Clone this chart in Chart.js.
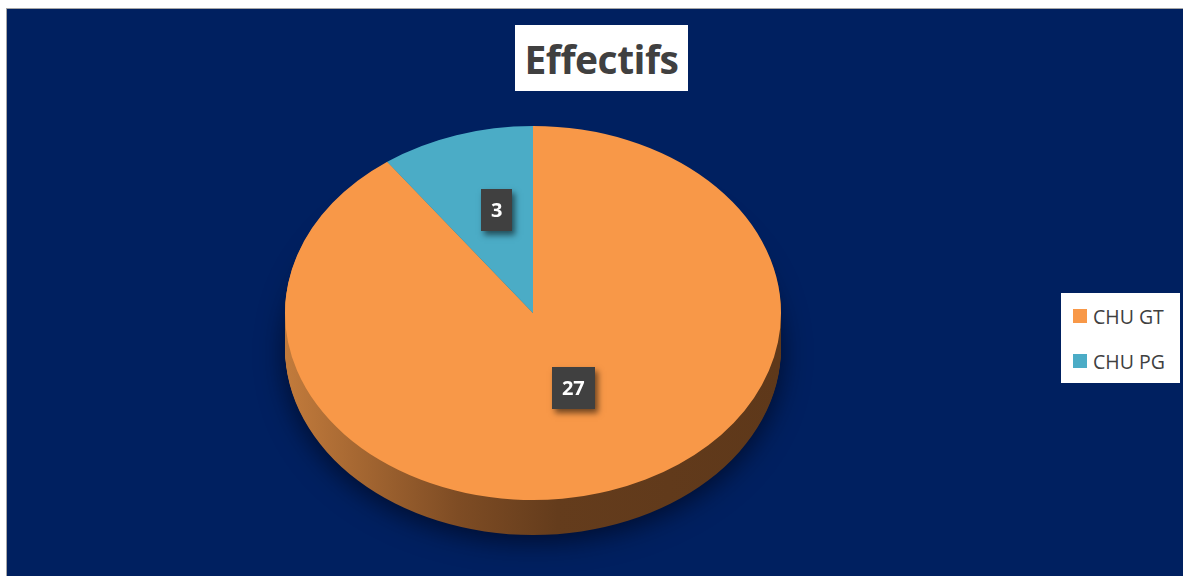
<!DOCTYPE html>
<html>
<head>
<meta charset="utf-8">
<script src="https://cdn.jsdelivr.net/npm/chart.js@4.4.1/dist/chart.umd.min.js"></script>
<style>
  html, body { margin: 0; padding: 0; background: #ffffff; width: 1183px; height: 576px; overflow: hidden; }
  #frame { position: absolute; left: 6px; top: 8px; width: 1200px; height: 600px; background: #002060;
           border-top: 1px solid #a6a6a6; border-left: 1px solid #a6a6a6; }
  #chart { position: absolute; left: 0; top: 0; }
  #title { position: absolute; left: 515px; top: 25px; width: 173px; height: 66px; background: #ffffff;
           color: #404040; font: bold 39px 'Open Sans', sans-serif; display: flex; align-items: center;
           justify-content: center; letter-spacing: -0.5px; }
  #legend { position: absolute; left: 1061px; top: 293px; width: 119px; height: 90px; background: #ffffff; }
  .item { position: absolute; left: 12px; height: 22px; display: flex; align-items: center;
          font: 19.5px 'Open Sans', sans-serif; color: #404040; white-space: nowrap; }
  .swatch { width: 14px; height: 14px; margin-right: 6px; }
</style>
</head>
<body>
<div id="frame"></div>
<canvas id="chart" width="1183" height="576"></canvas>
<div id="title">Effectifs</div>
<div id="legend"></div>
<script>
// Effectifs par établissement
const categories = ['CHU GT', 'CHU PG'];
const effectifs = [27, 3];

const topColors = ['#F89848', '#4BACC6'];
const TILT = 187 / 248;   // vertical squash of the disc
const DEPTH = 35;         // thickness of the disc, px

// Legend box
const legend = document.getElementById('legend');
categories.forEach((name, i) => {
  const item = document.createElement('div');
  item.className = 'item';
  item.style.top = (12 + i * 45) + 'px';
  item.innerHTML = '<span class="swatch" style="background:' + topColors[i] + '"></span>' + name;
  legend.appendChild(item);
});

function sideGradient(ctx, x, r, i) {
  const g = ctx.createLinearGradient(x - r, 0, x + r, 0);
  if (i === 0) {
    g.addColorStop(0, '#C27B3C');
    g.addColorStop(0.35, '#7E4C24');
    g.addColorStop(0.55, '#643C1C');
    g.addColorStop(1, '#5E381A');
  } else {
    g.addColorStop(0, '#3A8AA0');
    g.addColorStop(0.5, '#2A6576');
    g.addColorStop(1, '#245866');
  }
  return g;
}

// Draws the disc thickness, then squashes the top face into an ellipse
const pie3d = {
  id: 'pie3d',
  beforeDatasetsDraw(chart) {
    const ctx = chart.ctx;
    const arcs = chart.getDatasetMeta(0).data;
    const { x, y, outerRadius: r } = arcs[0].getProps(['x', 'y', 'outerRadius'], true);
    for (let d = DEPTH; d >= 1; d--) {
      ctx.save();
      ctx.translate(x, y + d);
      ctx.scale(1, TILT);
      ctx.translate(-x, -y);
      if (d === DEPTH) {
        ctx.shadowColor = 'rgba(0, 0, 10, 0.6)';
        ctx.shadowBlur = 28;
        ctx.shadowOffsetY = 6;
      }
      arcs.forEach((arc, i) => {
        const p = arc.getProps(['startAngle', 'endAngle'], true);
        ctx.beginPath();
        ctx.moveTo(x, y);
        ctx.arc(x, y, r, p.startAngle, p.endAngle);
        ctx.closePath();
        ctx.fillStyle = sideGradient(ctx, x, r, i);
        ctx.fill();
      });
      ctx.restore();
    }
    ctx.save();
    ctx.translate(x, y);
    ctx.scale(1, TILT);
    ctx.translate(-x, -y);
  },
  afterDatasetsDraw(chart) {
    const ctx = chart.ctx;
    ctx.restore();
    // value labels
    const meta = chart.getDatasetMeta(0);
    const values = chart.data.datasets[0].data;
    meta.data.forEach((arc, i) => {
      const p = arc.getProps(['x', 'y', 'startAngle', 'endAngle', 'outerRadius'], true);
      const mid = (p.startAngle + p.endAngle) / 2;
      const lx = p.x + Math.cos(mid) * p.outerRadius * 0.5 + 2;
      const ly = p.y + Math.sin(mid) * p.outerRadius * 0.5 * TILT - 14;
      const text = String(values[i]);
      ctx.save();
      ctx.font = 'bold 20px "Open Sans", sans-serif';
      const w = ctx.measureText(text).width + 20;
      const h = 42;
      ctx.shadowColor = 'rgba(0, 0, 0, 0.55)';
      ctx.shadowBlur = 6;
      ctx.shadowOffsetX = 3;
      ctx.shadowOffsetY = 4;
      ctx.fillStyle = '#404040';
      ctx.fillRect(Math.round(lx - w / 2), Math.round(ly - h / 2), Math.round(w), h);
      ctx.shadowColor = 'transparent';
      ctx.fillStyle = '#ffffff';
      ctx.textAlign = 'center';
      ctx.textBaseline = 'middle';
      ctx.fillText(text, lx, ly + 1);
      ctx.restore();
    });
  }
};

new Chart(document.getElementById('chart'), {
  type: 'pie',
  data: {
    labels: categories,
    datasets: [{
      data: effectifs,
      backgroundColor: topColors,
      borderWidth: 0
    }]
  },
  options: {
    responsive: false,
    animation: false,
    layout: { padding: { left: 285, right: 402, top: 65, bottom: 15 } },
    plugins: { legend: { display: false }, tooltip: { enabled: false }, title: { display: false } }
  },
  plugins: [pie3d]
});
</script>
</body>
</html>
